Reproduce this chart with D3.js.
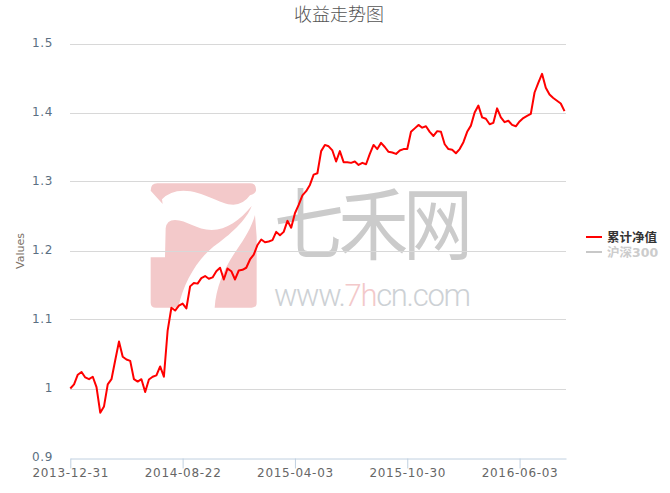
<!DOCTYPE html>
<html><head><meta charset="utf-8">
<script src="https://cdnjs.cloudflare.com/ajax/libs/d3/7.8.5/d3.min.js"></script>
<style>html,body{margin:0;padding:0;background:#fff}svg{display:block}</style>
</head><body><svg id="c" width="670" height="493"></svg>
<script>
const title = "收益走势图";
const yLabel = "Values";
const yTicks = [0.9,1,1.1,1.2,1.3,1.4,1.5];
const xTickIndex = [0,30,60,90,120];
const xTickLabels = ["2013-12-31","2014-08-22","2015-04-03","2015-10-30","2016-06-03"];
const legendNames = ["累计净值","沪深300"];
const legendColors = ["#ff0000","#c8c8c8"];
const netValue = [
1.000,1.006,1.020,1.024,1.016,1.0135,1.017,1.002,0.965,0.974,1.006,1.0135,1.041,1.068,1.046,1.042,1.040,1.0135,1.010,1.0135,
0.995,1.013,1.017,1.019,1.032,1.017,1.084,1.117,1.113,1.120,1.123,1.116,1.148,1.153,1.152,1.160,1.163,1.159,1.161,1.170,
1.175,1.158,1.174,1.170,1.158,1.171,1.172,1.175,1.187,1.194,1.208,1.216,1.212,1.213,1.215,1.227,1.222,1.227,1.243,1.233,
1.254,1.266,1.280,1.286,1.295,1.310,1.312,1.344,1.353,1.351,1.345,1.329,1.344,1.328,1.328,1.327,1.329,1.324,1.327,1.325,
1.340,1.353,1.347,1.356,1.350,1.343,1.342,1.340,1.345,1.347,1.347,1.372,1.377,1.382,1.378,1.380,1.372,1.366,1.373,1.372,
1.354,1.347,1.346,1.341,1.347,1.357,1.372,1.381,1.400,1.410,1.393,1.391,1.383,1.385,1.406,1.393,1.386,1.388,1.382,1.380,
1.387,1.392,1.395,1.398,1.429,1.443,1.456,1.436,1.426,1.421,1.417,1.413,1.402];

const svg = d3.select("#c");
const font = "'DejaVu Sans',sans-serif";
const x = d3.scaleLinear().domain([0,132.4]).range([70.3,566]);
const y = d3.scaleLinear().domain([0.9,1.5]).range([457.5,43.5]);

// watermark
const wm = svg.append("g");
const logo = wm.append("g").attr("transform","translate(140,170) scale(0.3333)").attr("fill","#f3c9ca");
logo.append("path").attr("d","M32 62 Q32 40 52 40 L330 40 Q350 40 348 62 Q345 72 330 76 Q310 104 280 104 C240 104 190 62 130 62 Q90 62 66 88 L68 102 Z");
logo.append("path").attr("d","M32 262 L75 262 L77 175 Q80 150 105 150 C140 150 170 180 215 180 C260 180 300 150 335 108 C320 150 270 195 220 230 C170 270 130 340 115 413 L48 413 Q32 413 32 398 Z");
logo.append("path").attr("d","M345 135 L350 200 L350 398 Q350 413 335 413 L224 413 C228 350 255 290 290 240 C315 205 335 170 345 135 Z");
wm.append("text").attr("transform","translate(274,254) scale(1,1.13)").attr("fill","#cbcbcb").style("font-family","'Noto Sans CJK SC'").style("font-weight",400).style("font-size","70px").attr("textLength",199).text("七禾网");
const url = wm.append("text").attr("x",274).attr("y",306).attr("fill","#cdd1d5").style("font-family","Roboto").style("font-weight",300).style("font-size","31px").attr("textLength",197);
url.append("tspan").text("www.");
url.append("tspan").attr("fill","#f3c9ca").text("7h");
url.append("tspan").text("cn.com");

// grid
svg.append("g").selectAll("line").data(yTicks.filter(d=>d>0.9)).join("line")
 .attr("x1",70).attr("x2",566).attr("y1",d=>Math.round(y(d))+.5).attr("y2",d=>Math.round(y(d))+.5)
 .attr("stroke","#d8d8d8").attr("stroke-width",1);

// y axis
const ya = svg.append("g").attr("transform","translate(53,-1)").call(d3.axisLeft(y).tickValues(yTicks).tickSize(0).tickPadding(0).tickFormat(d3.format("~g")));
ya.select(".domain").remove();
ya.selectAll("text").attr("fill","#5b6f82").attr("dy","0.36em").style("font-family",font).style("font-size","12px").style("letter-spacing","0.6px");

// x axis
const xa = svg.append("g").attr("transform","translate(0,458.5)").call(d3.axisBottom(x).tickValues(xTickIndex).tickSize(10).tickSizeOuter(0).tickPadding(0).tickFormat((d,i)=>xTickLabels[i]));
xa.select(".domain").attr("stroke","#c0d0e0");
xa.selectAll("line").attr("stroke","#c0d0e0");
xa.selectAll("text").attr("fill","#666").style("font-family",font).style("font-size","12px").style("letter-spacing","0.7px");

svg.append("text").attr("transform","translate(24,251) rotate(-90)").attr("text-anchor","middle").attr("fill","#7a6f66").style("font-family",font).style("font-size","11px").text(yLabel);
svg.append("text").attr("x",339).attr("y",21).attr("text-anchor","middle").attr("fill","#555").style("font-family","'Noto Sans CJK SC'").style("font-weight",300).style("font-size","18px").text(title);

// series
svg.append("path").datum(netValue).attr("fill","none").attr("stroke","#ff0000").attr("stroke-width",2).attr("stroke-linejoin","round")
 .attr("d",d3.line().x((d,i)=>x(i)).y(d=>y(d)));

// legend
const lg = svg.append("g").selectAll("g").data(legendNames).join("g").attr("transform",(d,i)=>`translate(586,${237+15*i})`);
lg.append("line").attr("x1",0).attr("x2",16).attr("stroke",(d,i)=>legendColors[i]).attr("stroke-width",2);
lg.append("text").attr("x",21).attr("y",4.5).attr("fill",(d,i)=>i?"#ccc":"#333").style("font-family","'DejaVu Sans','Noto Sans CJK SC'").style("font-weight",700).style("font-size","12.5px").text(d=>d);
</script></body></html>
